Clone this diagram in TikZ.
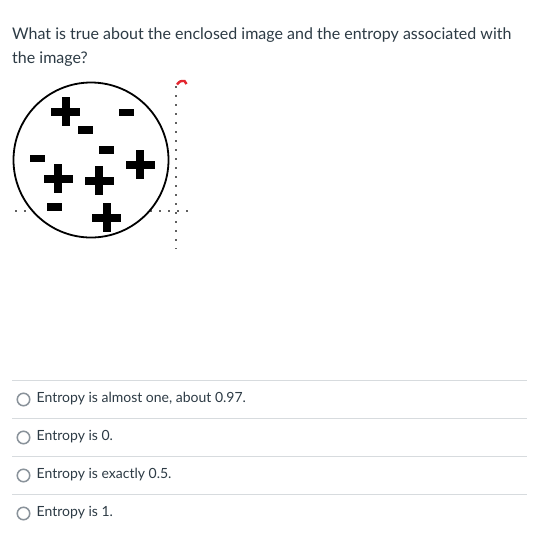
\documentclass[tikz,border=0pt]{standalone}
\usepackage{fontspec}
\setmainfont{Lato}
\definecolor{txt}{HTML}{2D3B45}
\definecolor{sep}{HTML}{D7DBDE}
\definecolor{radio}{HTML}{8A939B}
\definecolor{dotc}{HTML}{606060}
\definecolor{redmark}{HTML}{E3262F}
\begin{document}
\begin{tikzpicture}[x=1pt,y=-1pt,
  qtext/.style={anchor=base west, inner sep=0pt, text=txt, font=\fontsize{16}{20}\selectfont},
  otext/.style={anchor=base west, inner sep=0pt, text=txt, font=\fontsize{14}{18}\selectfont},
  radiobtn/.style={circle, draw=radio, line width=1.5pt, minimum size=12.5pt, inner sep=0pt},
  sepline/.style={draw=sep, line width=1pt},
  dotline/.style={draw=dotc, line width=1.6pt, dash pattern=on 1.6pt off 7.4pt},
  plussym/.pic={\fill (-14.5,-4) rectangle (14.5,4); \fill (-4,-14.5) rectangle (4,14.5);},
  minussym/.pic={\fill (-7.5,-3.7) rectangle (7.5,3.7);}
]
\useasboundingbox[fill=white] (0,0) rectangle (543,542);

% question
\node[qtext] (q1) at (12,39.5) {What is true about the enclosed image and the entropy associated with};
\node[qtext] (q2) at (12,63.5) {the image?};

% dotted guides
\coordinate (hl) at (15,211);
\coordinate (hr) at (188,211);
\coordinate (vt) at (176,86);
\coordinate (vb) at (176,249);
\draw[dotline] (hl) -- (hr);
\draw[dotline] (vt) -- (vb);
\draw[redmark, line width=2.4pt] (177,84.5) .. controls (180,81) .. (184.5,81) -- (186.5,84);

% enclosed image
\node[circle, draw=black, fill=white, line width=1.8pt, minimum size=155pt, inner sep=0pt] (ring) at (91,160) {};
\pic at (65.5,111.5) {plussym};
\pic at (140,164.5) {plussym};
\pic at (58.3,178.8) {plussym};
\pic at (99.2,180.5) {plussym};
\pic at (106.5,217.5) {plussym};
\pic at (126.3,112.7) {minussym};
\pic at (85.5,130) {minussym};
\pic at (106,150) {minussym};
\pic at (37.5,158.3) {minussym};
\pic at (54,207) {minussym};

% options
\draw[sepline] (12,380.7) -- (527,380.7);
\draw[sepline] (12,418.7) -- (527,418.7);
\draw[sepline] (12,456.7) -- (527,456.7);
\draw[sepline] (12,494.7) -- (527,494.7);

\node[radiobtn] (r1) at (23.5,399.5) {};
\node[radiobtn] (r2) at (23.5,437.5) {};
\node[radiobtn] (r3) at (23.5,475.5) {};
\node[radiobtn] (r4) at (23.5,513.5) {};
\node[otext] (o1) at (36.5,402.7) {Entropy is almost one, about 0.97.};
\node[otext] (o2) at (36.5,440.7) {Entropy is 0.};
\node[otext] (o3) at (36.5,478.7) {Entropy is exactly 0.5.};
\node[otext] (o4) at (36.5,516.7) {Entropy is 1.};
\end{tikzpicture}
\end{document}
